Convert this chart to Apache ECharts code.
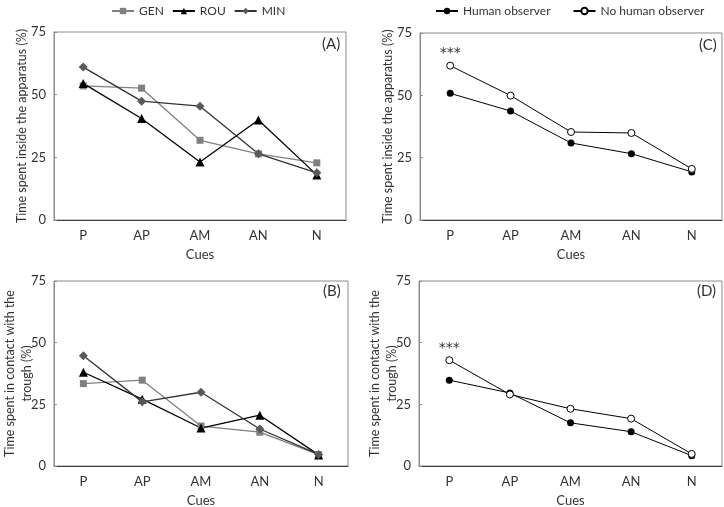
<!DOCTYPE html>
<html><head><meta charset="utf-8">
<script src="https://cdn.jsdelivr.net/npm/echarts@6/dist/echarts.min.js"></script>
<style>html,body{margin:0;padding:0;background:#fff}#c{width:724px;height:507px}</style>
</head><body><div id="c"></div>
<script>
const cues = ['P','AP','AM','AN','N'];
const yTicks = [0,25,50,75];
// Panel A: time spent inside the apparatus (%), by breed
const genA = [53.5,52.6,31.8,26.4,22.8];
const rouA = [54.5,40.5,23.1,39.9,18.0];
const minA = [61.0,47.4,45.4,26.4,18.8];
// Panel B: time spent in contact with the trough (%), by breed
const genB = [33.4,34.8,16.2,13.7,4.6];
const rouB = [38.0,27.1,15.4,20.6,4.5];
const minB = [44.7,26.0,29.9,15.0,4.7];
// Panel C: inside apparatus, observer condition
const humC = [50.8,43.7,30.9,26.6,19.3];
const noHumC = [61.9,49.9,35.3,34.9,20.5];
// Panel D: contact with trough, observer condition
const humD = [34.8,29.6,17.5,13.9,4.2];
const noHumD = [42.9,29.0,23.2,19.2,4.9];

const FONT = 'Lato';
const TXT = '#333';
const chart = echarts.init(document.getElementById('c'), null, {renderer:'canvas'});

const grids = [
  {left:54, top:32, right:378, bottom:287},
  {left:54, top:281, right:376, bottom:41},
  {left:420, top:33, right:2, bottom:287},
  {left:419, top:281, right:2, bottom:41}
];
const yNames = ['Time spent inside the apparatus (%)','Time spent in contact with the\ntrough (%)',
                'Time spent inside the apparatus (%)','Time spent in contact with the\ntrough (%)'];
const yGaps = [24,19,24,19];

const xAxes = grids.map((g,i)=>({
  type:'category', gridIndex:i, data:cues, boundaryGap:true,
  axisLine:{lineStyle:{color:'#404040',width:1}},
  axisTick:{inside:true,length:4,lineStyle:{color:'#404040'}},
  axisLabel:{color:TXT,fontFamily:FONT,fontSize:13,margin:9},
  name:'Cues', nameLocation:'middle', nameGap:28, nameMoveOverlap:false,
  nameTextStyle:{color:TXT,fontFamily:FONT,fontSize:13}
}));
const yAxes = grids.map((g,i)=>({
  type:'value', gridIndex:i, min:0, max:75, interval:25,
  axisLine:{show:true,lineStyle:{color:'#8c8c8c'}},
  axisTick:{show:true,inside:true,length:3,lineStyle:{color:'#8c8c8c'}},
  splitLine:{show:false},
  axisLabel:{color:TXT,fontFamily:FONT,fontSize:13,margin:8},
  name:yNames[i], nameLocation:'middle', nameGap:yGaps[i], nameRotate:90, nameMoveOverlap:false,
  nameTextStyle:{color:TXT,fontFamily:FONT,fontSize:12.5,lineHeight:17}
}));
grids.forEach(g=>{g.show=true;g.borderColor='#8c8c8c';g.borderWidth=1;g.backgroundColor='transparent';g.containLabel=false;g.outerBoundsMode='none';});

function ser(name, data, idx, opts){
  return Object.assign({
    name, type:'line', data, xAxisIndex:idx, yAxisIndex:idx,
    symbolSize:8, z:3
  }, opts);
}
const stars = (val)=>({
  symbol:'circle', symbolSize:0,
  data:[{coord:['P', val]}],
  label:{show:true, formatter:'***', position:'top', distance:0, offset:[0,-5], color:TXT, fontFamily:'DejaVu Sans', fontSize:14, letterSpacing:1},
  silent:true
});

const series = [
  ser('GEN', genA, 0, {symbol:'rect', symbolSize:7, itemStyle:{color:'#808080'}, lineStyle:{color:'#808080',width:1.3}}),
  ser('ROU', rouA, 0, {symbol:'triangle', symbolSize:9, itemStyle:{color:'#000'}, lineStyle:{color:'#000',width:1.3}}),
  ser('MIN', minA, 0, {symbol:'diamond', symbolSize:9, itemStyle:{color:'#595959'}, lineStyle:{color:'#333',width:1.3}}),
  ser('GEN', genB, 1, {symbol:'rect', symbolSize:7, itemStyle:{color:'#808080'}, lineStyle:{color:'#808080',width:1.3}}),
  ser('ROU', rouB, 1, {symbol:'triangle', symbolSize:9, itemStyle:{color:'#000'}, lineStyle:{color:'#000',width:1.3}}),
  ser('MIN', minB, 1, {symbol:'diamond', symbolSize:9, itemStyle:{color:'#595959'}, lineStyle:{color:'#333',width:1.3}}),
  ser('Human observer', humC, 2, {symbol:'circle', symbolSize:7, itemStyle:{color:'#000'}, lineStyle:{color:'#000',width:1}}),
  ser('No human observer', noHumC, 2, {symbol:'circle', symbolSize:7, itemStyle:{color:'#fff',borderColor:'#000',borderWidth:1}, lineStyle:{color:'#000',width:1}, markPoint:stars(noHumC[0])}),
  ser('Human observer', humD, 3, {symbol:'circle', symbolSize:7, itemStyle:{color:'#000'}, lineStyle:{color:'#000',width:1}}),
  ser('No human observer', noHumD, 3, {symbol:'circle', symbolSize:7, itemStyle:{color:'#fff',borderColor:'#000',borderWidth:1}, lineStyle:{color:'#000',width:1}, markPoint:stars(noHumD[0])})
];

const legendText = {color:TXT,fontFamily:FONT,fontSize:12};
chart.setOption({
  animation:false,
  backgroundColor:'#fff',
  grid:grids, xAxis:xAxes, yAxis:yAxes, series,
  legend:[
    {data:['GEN','ROU','MIN'], left:106, top:0, itemWidth:22, itemHeight:8, itemGap:8, textStyle:legendText},
    {data:['Human observer','No human observer'], left:430, top:0, itemWidth:22, itemHeight:8, itemGap:22, textStyle:legendText}
  ],
  graphic:[
    {type:'text', left:322, top:37, style:{text:'(A)', fill:TXT, font:'15px Lato'}},
    {type:'text', left:323, top:284, style:{text:'(B)', fill:TXT, font:'15px Lato'}},
    {type:'text', left:699, top:38, style:{text:'(C)', fill:TXT, font:'15px Lato'}},
    {type:'text', left:697, top:284, style:{text:'(D)', fill:TXT, font:'15px Lato'}}
  ]
});
</script></body></html>
